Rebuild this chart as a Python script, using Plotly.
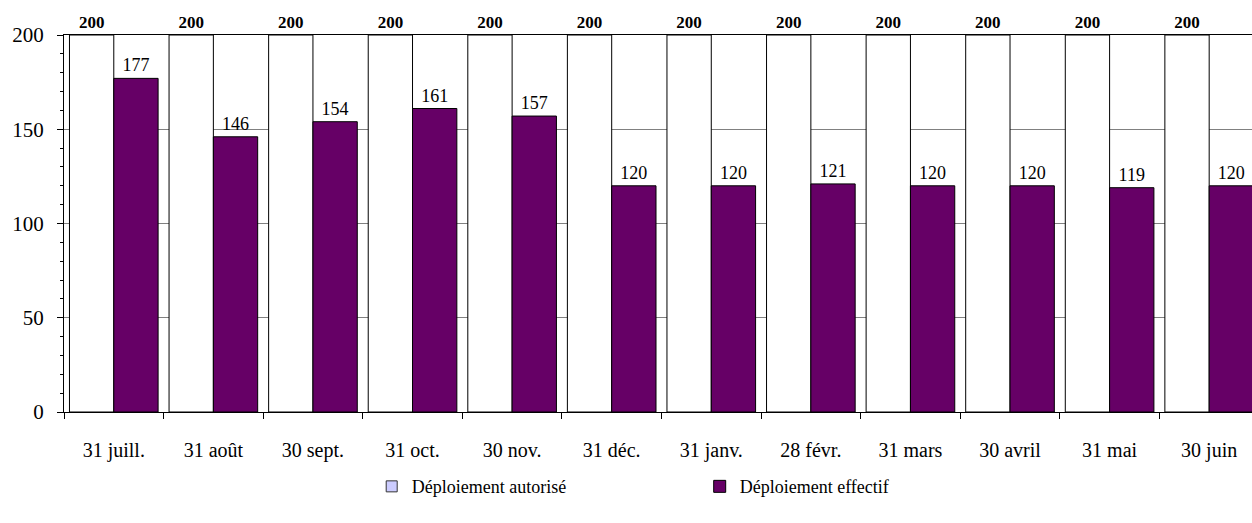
import plotly.graph_objects as go

# Month-end reporting dates
dates = ["31 juill.", "31 août", "30 sept.", "31 oct.", "30 nov.", "31 déc.",
         "31 janv.", "28 févr.", "31 mars", "30 avril", "31 mai", "30 juin"]

# Authorised vs. actual deployment
autorise = [200, 200, 200, 200, 200, 200, 200, 200, 200, 200, 200, 200]
effectif = [177, 146, 154, 161, 157, 120, 120, 121, 120, 120, 119, 120]

SERIF = "Liberation Serif, Times New Roman, serif"
PURPLE = "#660066"
LAVENDER = "#CCCCFF"

fig = go.Figure()

# legend swatch for the authorised series (bars themselves are drawn white)
fig.add_trace(go.Scatter(
    x=[None], y=[None], mode="markers", name="Déploiement autorisé",
    marker=dict(symbol="square", size=11, color=LAVENDER,
                line=dict(color="#333333", width=1)),
    hoverinfo="skip",
))

fig.add_trace(go.Bar(
    x=dates, y=autorise, name="Déploiement autorisé", showlegend=False,
    marker=dict(color="white", line=dict(color="black", width=1)),
    text=[str(v) for v in autorise], textposition="outside",
    textfont=dict(family=SERIF, size=17, color="black", weight="bold"),
    cliponaxis=False,
))

fig.add_trace(go.Bar(
    x=dates, y=effectif, name="Déploiement effectif",
    marker=dict(color=PURPLE, line=dict(color="black", width=1)),
    text=[str(v) for v in effectif], textposition="outside",
    textfont=dict(family=SERIF, size=18, color="black"),
    cliponaxis=True,
))

fig.update_layout(
    width=1252, height=523,
    margin=dict(l=64, r=0, t=35, b=111),
    paper_bgcolor="white", plot_bgcolor="white",
    barmode="group", bargap=0.11, bargroupgap=0,
    font=dict(family=SERIF, color="black"),
    legend=dict(
        orientation="h", x=0.259, xanchor="left", y=-0.198, yanchor="middle",
        font=dict(family=SERIF, size=18, color="black"),
        entrywidth=283, entrywidthmode="pixels",
        itemclick=False, itemdoubleclick=False,
    ),
    xaxis=dict(
        type="category", categoryorder="array", categoryarray=dates,
        range=[-0.5, 11.43],
        tickson="boundaries", ticks="outside", ticklen=6, tickcolor="black",
        showline=True, linecolor="black", linewidth=1, mirror=True,
        showgrid=False, zeroline=False,
        tickfont=dict(family=SERIF, size=20, color="black"),
        ticklabelstandoff=20,
    ),
    yaxis=dict(
        range=[0, 200], tickvals=[0, 50, 100, 150, 200],
        ticks="outside", ticklen=6, tickcolor="black",
        minor=dict(dtick=10, ticks="outside", ticklen=3, tickcolor="black",
                   showgrid=False),
        showline=True, linecolor="black", linewidth=1,
        showgrid=True, gridcolor="#808080", gridwidth=1,
        zeroline=False,
        tickfont=dict(family=SERIF, size=21, color="black"),
        ticklabelstandoff=9,
    ),
)

fig.write_html("out.html")
